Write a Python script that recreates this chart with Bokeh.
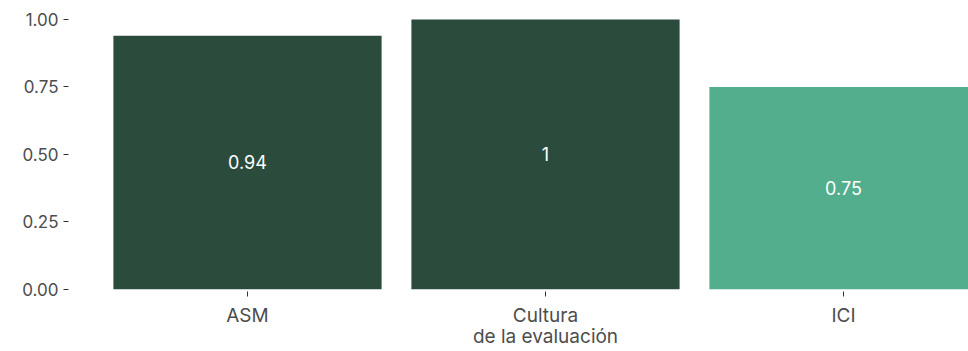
from bokeh.plotting import figure
from bokeh.models import Range1d, FixedTicker, ColumnDataSource
from bokeh.core.properties import value
from bokeh.embed import file_html
from bokeh.resources import INLINE

categories = ["ASM", "Cultura\nde la evaluación", "ICI"]
values = [0.94, 1.0, 0.75]
labels = ["0.94", "1", "0.75"]
colors = ["#2B4B3D", "#2B4B3D", "#52AE8C"]
y_ticks = [0.0, 0.25, 0.5, 0.75, 1.0]
y_tick_labels = ["0.00", "0.25", "0.50", "0.75", "1.00"]

FONT = "Inter"
xpos = [i + 1 for i in range(len(categories))]

src = ColumnDataSource(dict(x=xpos, top=values, color=colors,
                            label=labels, mid=[v / 2 for v in values]))

x_start = 1 - 179 / 298
x_end = x_start + 900 / 298

p = figure(width=968, height=351, output_backend="svg", toolbar_location=None,
           x_range=Range1d(x_start, x_end), y_range=Range1d(-0.0087, 1.0706),
           min_border_left=68, min_border_right=0, min_border_top=0,
           min_border_bottom=0)
p.outline_line_color = None
p.background_fill_color = "white"
p.border_fill_color = "white"
p.xgrid.visible = False
p.ygrid.visible = False

p.vbar(x="x", top="top", bottom=0, width=0.9, fill_color="color",
       line_color=None, source=src)
p.text(x="x", y="mid", text="label", source=src, text_color="white",
       text_align="center", text_baseline="middle",
       text_font=value(FONT), text_font_size="18px")

for ax in (p.xaxis[0], p.yaxis[0]):
    ax.axis_line_color = None
    ax.major_tick_line_color = "#333333"
    ax.major_tick_in = 0
    ax.major_tick_out = 5
    ax.minor_tick_line_color = None
    ax.major_label_text_color = "#4D4D4D"
    ax.major_label_text_font = FONT

p.xaxis.ticker = FixedTicker(ticks=xpos)
p.xaxis.major_label_overrides = {x: c for x, c in zip(xpos, categories)}
p.xaxis.major_label_text_font_size = "19px"
p.xaxis.major_label_text_line_height = 0.95
p.xaxis.major_label_standoff = 7

p.yaxis.ticker = FixedTicker(ticks=y_ticks)
p.yaxis.major_label_overrides = {t: l for t, l in zip(y_ticks, y_tick_labels)}
p.yaxis.major_label_text_font_size = "17px"
p.yaxis.major_label_standoff = 5

open("out.html", "w").write(file_html(p, INLINE))
